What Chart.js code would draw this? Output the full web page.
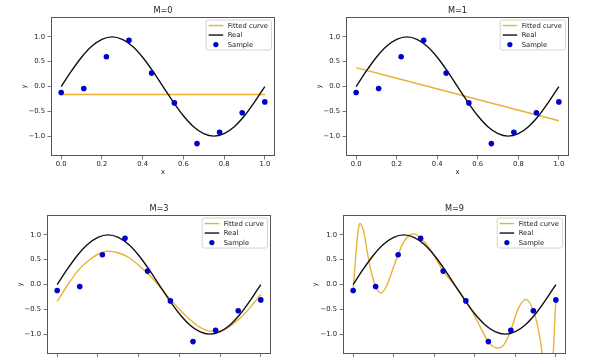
<!DOCTYPE html>
<html><head><meta charset="utf-8">
<script src="https://cdn.jsdelivr.net/npm/chart.js@4/dist/chart.umd.min.js"></script>
<style>
html,body{margin:0;padding:0;background:#fff;overflow:hidden;width:600px;height:357px;}
canvas{position:absolute;}
</style></head><body>
<canvas id="c0" width="300" height="178" style="left:0px;top:0px"></canvas>
<canvas id="c1" width="300" height="178" style="left:300px;top:0px"></canvas>
<canvas id="c2" width="300" height="178" style="left:0px;top:198px"></canvas>
<canvas id="c3" width="300" height="178" style="left:300px;top:198px"></canvas>
<script>
// ---- data ----
const titles = ['M=0', 'M=1', 'M=3', 'M=9'];
const seriesLabels = ['Fitted curve', 'Real', 'Sample'];
const xTicks = [0, 0.2, 0.4, 0.6, 0.8, 1.0];
const yTicks = [-1, -0.5, 0, 0.5, 1];

const sampleX = [0, 0.111, 0.222, 0.333, 0.444, 0.556, 0.667, 0.778, 0.889, 1.0];
const sampleY = [-0.12, -0.04, 0.60, 0.93, 0.27, -0.33, -1.15, -0.92, -0.53, -0.31];

const realX = [0, 0.05, 0.1, 0.15, 0.2, 0.25, 0.3, 0.35, 0.4, 0.45, 0.5, 0.55, 0.6, 0.65, 0.7, 0.75, 0.8, 0.85, 0.9, 0.95, 1.0];
const realY = [0, 0.31, 0.59, 0.81, 0.95, 1.0, 0.95, 0.81, 0.59, 0.31, 0, -0.31, -0.59, -0.81, -0.95, -1.0, -0.95, -0.81, -0.59, -0.31, 0];

const fitM0X = [0, 1.0];
const fitM0Y = [-0.16, -0.16];

const fitM1X = [0, 1.0];
const fitM1Y = [0.38, -0.69];

const fitM3X = [0, 0.05, 0.1, 0.15, 0.2, 0.25, 0.3, 0.35, 0.4, 0.45, 0.5, 0.55, 0.6, 0.65, 0.7, 0.75, 0.8, 0.85, 0.9, 0.95, 1.0];
const fitM3Y = [-0.34, -0.02, 0.27, 0.47, 0.61, 0.67, 0.64, 0.55, 0.39, 0.20, -0.03, -0.27, -0.50, -0.70, -0.86, -0.94, -0.94, -0.84, -0.67, -0.45, -0.20];

const fitM9X = [0, 0.01, 0.018, 0.026, 0.033, 0.041, 0.051, 0.067, 0.084, 0.111, 0.138, 0.166, 0.199, 0.222, 0.248, 0.281, 0.30, 0.333, 0.379, 0.444, 0.502, 0.556, 0.609, 0.667, 0.711, 0.744, 0.778, 0.814, 0.852, 0.889, 0.913, 0.933, 0.95, 0.965, 0.978, 0.987, 1.0];
const fitM9Y = [-0.12, 0.42, 0.82, 1.12, 1.23, 1.20, 1.09, 0.72, 0.35, -0.04, -0.17, -0.02, 0.35, 0.60, 0.85, 1.00, 1.02, 0.93, 0.72, 0.27, -0.02, -0.33, -0.71, -1.15, -1.28, -1.21, -0.92, -0.49, -0.30, -0.53, -0.89, -1.40, -2.1, -2.5, -2.2, -1.40, -0.31];

// ---- styling / layout ----
const ORANGE = '#e8b236';
const BLACK = '#111111';
const BLUE = '#0000c8';
const FONT = 'DejaVu Sans';
const TXT = '#222222';
const AXC = '#555555';

const fits = [[fitM0X, fitM0Y], [fitM1X, fitM1Y], [fitM3X, fitM3Y], [fitM9X, fitM9Y]];
const panels = [
  {id: 'c0', yW: 51, padR: 25, yTitlePad: 20},
  {id: 'c1', yW: 46, padR: 31, yTitlePad: 15},
  {id: 'c2', yW: 47, padR: 29, yTitlePad: 16.5},
  {id: 'c3', yW: 43, padR: 34, yTitlePad: 11}
];

function pts(xs, ys) { return xs.map((x, i) => ({x: x, y: ys[i]})); }
function fmt(v) { return (v < 0 ? '\u2212' : '') + Math.abs(v).toFixed(1); }

const framePlugin = {
  id: 'frame',
  afterDatasetsDraw(chart) {
    const a = chart.chartArea, ctx = chart.ctx;
    ctx.save();
    ctx.strokeStyle = AXC;
    ctx.lineWidth = 1;
    ctx.strokeRect(Math.round(a.left) + 0.5, Math.round(a.top) + 0.5, Math.round(a.right - a.left) - 1, Math.round(a.bottom - a.top) - 1);
    ctx.restore();
  }
};

const legendPlugin = {
  id: 'mplLegend',
  afterDraw(chart) {
    const ctx = chart.ctx, a = chart.chartArea;
    const ds = chart.data.datasets;
    ctx.save();
    ctx.font = '6.8px "' + FONT + '"';
    const tw = Math.max(...ds.map(d => ctx.measureText(d.label).width));
    const w = 21.5 + tw + 3.5, h = 30;
    const x0 = a.right - 3.5 - w, y0 = a.top + 3;
    ctx.beginPath();
    ctx.roundRect(x0, y0, w, h, 2);
    ctx.fillStyle = 'rgba(255,255,255,0.85)';
    ctx.fill();
    ctx.strokeStyle = '#cccccc';
    ctx.lineWidth = 0.8;
    ctx.stroke();
    ds.forEach((d, i) => {
      const cy = y0 + 5.5 + i * 9.5;
      if (d.showLine) {
        ctx.beginPath();
        ctx.moveTo(x0 + 2.5, cy);
        ctx.lineTo(x0 + 17, cy);
        ctx.strokeStyle = d.borderColor;
        ctx.lineWidth = d.borderWidth;
        ctx.stroke();
      } else {
        ctx.beginPath();
        ctx.arc(x0 + 9.7, cy, 2.6, 0, Math.PI * 2);
        ctx.fillStyle = d.pointBackgroundColor;
        ctx.fill();
      }
      ctx.fillStyle = TXT;
      ctx.textBaseline = 'middle';
      ctx.textAlign = 'left';
      ctx.fillText(d.label, x0 + 21.5, cy + 0.3);
    });
    ctx.restore();
  }
};

panels.forEach((p, k) => {
  const [fx, fy] = fits[k];
  const smallFont = {family: FONT, size: 6.8, weight: 'normal', lineHeight: 1.2};
  new Chart(document.getElementById(p.id), {
    type: 'scatter',
    data: {
      datasets: [
        {label: seriesLabels[0], data: pts(fx, fy), showLine: true, borderColor: ORANGE, backgroundColor: ORANGE,
         borderWidth: 1.4, pointRadius: 0, pointHoverRadius: 0, cubicInterpolationMode: 'monotone', order: 2, clip: 0},
        {label: seriesLabels[1], data: pts(realX, realY), showLine: true, borderColor: BLACK, backgroundColor: BLACK,
         borderWidth: 1.4, pointRadius: 0, pointHoverRadius: 0, cubicInterpolationMode: 'monotone', order: 1, clip: 0},
        {label: seriesLabels[2], data: pts(sampleX, sampleY), showLine: false, pointRadius: 2.8, pointBorderWidth: 0,
         pointBackgroundColor: BLUE, backgroundColor: BLUE, borderColor: BLUE, order: 0}
      ]
    },
    options: {
      responsive: false,
      animation: false,
      devicePixelRatio: 1,
      events: [],
      layout: {padding: {left: 0, right: p.padR, top: 0, bottom: 0}},
      plugins: {
        legend: {display: false},
        tooltip: {enabled: false},
        title: {display: true, text: titles[k], fullSize: false, color: TXT,
                font: {family: FONT, size: 8.2, weight: 'normal', lineHeight: 1.2},
                padding: {top: 6, bottom: 1.2}}
      },
      scales: {
        x: {
          type: 'linear', min: -0.05, max: 1.05,
          afterBuildTicks: s => { s.ticks = xTicks.map(v => ({value: v})); },
          afterFit: s => { s.height = 22; },
          ticks: {font: smallFont, color: TXT, padding: 1, maxRotation: 0, autoSkip: false, callback: v => fmt(v)},
          grid: {drawOnChartArea: false, drawTicks: true, tickLength: 3.5, tickColor: AXC, tickWidth: 0.8},
          border: {display: false},
          title: {display: true, text: 'x', color: TXT, font: smallFont, padding: {top: 0, bottom: 2}}
        },
        y: {
          type: 'linear', min: -1.4, max: 1.4,
          afterBuildTicks: s => { s.ticks = yTicks.map(v => ({value: v})); },
          afterFit: s => { s.width = p.yW; },
          ticks: {font: smallFont, color: TXT, padding: 2.5, autoSkip: false, callback: v => fmt(v)},
          grid: {drawOnChartArea: false, drawTicks: true, tickLength: 3.5, tickColor: AXC, tickWidth: 0.8},
          border: {display: false},
          title: {display: true, text: 'y', color: TXT, font: smallFont, padding: {top: p.yTitlePad, bottom: 0}}
        }
      }
    },
    plugins: [framePlugin, legendPlugin]
  });
});
</script>
</body></html>
